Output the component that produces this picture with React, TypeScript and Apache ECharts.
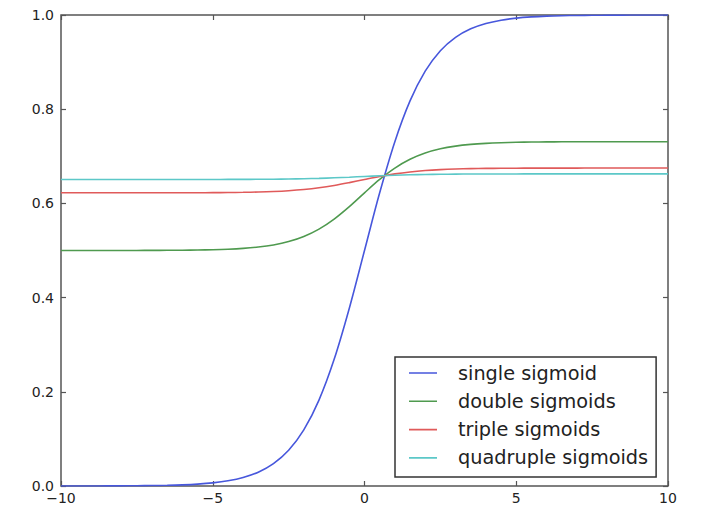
import React, { useEffect, useRef } from "react";
import * as echarts from "echarts";

const xs = [-10, -9.5, -9, -8.5, -8, -7.5, -7, -6.5, -6, -5.5, -5, -4.5, -4, -3.5, -3, -2.5, -2, -1.5, -1, -0.5, 0, 0.5, 1, 1.5, 2, 2.5, 3, 3.5, 4, 4.5, 5, 5.5, 6, 6.5, 7, 7.5, 8, 8.5, 9, 9.5, 10];

const singleSigmoid = [0.00005, 0.00007, 0.00012, 0.0002, 0.00034, 0.00055, 0.00091, 0.0015, 0.00247, 0.00407, 0.00669, 0.01099, 0.01799, 0.02931, 0.04743, 0.07586, 0.1192, 0.18243, 0.26894, 0.37754, 0.5, 0.62246, 0.73106, 0.81757, 0.8808, 0.92414, 0.95257, 0.97069, 0.98201, 0.98901, 0.99331, 0.99593, 0.99753, 0.9985, 0.99909, 0.99945, 0.99966, 0.9998, 0.99988, 0.99992, 0.99995];

const doubleSigmoids = [0.50001, 0.50002, 0.50003, 0.50005, 0.50008, 0.50014, 0.50023, 0.50038, 0.50062, 0.50102, 0.50167, 0.50275, 0.5045, 0.50733, 0.51185, 0.51896, 0.52977, 0.54548, 0.56683, 0.59328, 0.62246, 0.65078, 0.67504, 0.69372, 0.70699, 0.71589, 0.72163, 0.72526, 0.72751, 0.72889, 0.72974, 0.73026, 0.73057, 0.73076, 0.73088, 0.73095, 0.73099, 0.73102, 0.73104, 0.73104, 0.73105];

const tripleSigmoids = [0.62246, 0.62246, 0.62247, 0.62247, 0.62248, 0.62249, 0.62251, 0.62255, 0.6226, 0.6227, 0.62285, 0.62311, 0.62352, 0.62418, 0.62524, 0.6269, 0.62943, 0.63309, 0.63803, 0.64412, 0.65078, 0.65719, 0.66263, 0.66679, 0.66974, 0.6717, 0.67297, 0.67376, 0.67426, 0.67456, 0.67475, 0.67486, 0.67493, 0.67497, 0.675, 0.67501, 0.67502, 0.67503, 0.67503, 0.67503, 0.67504];

const quadrupleSigmoids = [0.65078, 0.65078, 0.65078, 0.65078, 0.65078, 0.65079, 0.65079, 0.6508, 0.65081, 0.65083, 0.65087, 0.65092, 0.65102, 0.65117, 0.65141, 0.65179, 0.65236, 0.65319, 0.65431, 0.65568, 0.65719, 0.65863, 0.65985, 0.66079, 0.66144, 0.66188, 0.66216, 0.66235, 0.66246, 0.66252, 0.66257, 0.66259, 0.66261, 0.66262, 0.66262, 0.66262, 0.66263, 0.66263, 0.66263, 0.66263, 0.66263];

const seriesNames = ["single sigmoid", "double sigmoids", "triple sigmoids", "quadruple sigmoids"];
const seriesColors = ["#4757dc", "#4f9a4f", "#e05a5a", "#5cc8c8"];
const seriesValues = [singleSigmoid, doubleSigmoids, tripleSigmoids, quadrupleSigmoids];

const FRAME = "#555555";
const TEXT = "#222222";
const FONT = "DejaVu Sans";

const legendIcon = "path://M0,0 L0.01,0 L0.01,0.01 Z M43.99,19.99 L44,19.99 L44,20 Z M0,9.2 L28,9.2 L28,10.8 L0,10.8 Z";

export default function App() {
  const ref = useRef<HTMLDivElement>(null);

  useEffect(() => {
    if (!ref.current) return;
    const chart = echarts.init(ref.current, null, { renderer: "svg" });

    const tickStyle = { show: true, inside: true, length: 5, lineStyle: { color: FRAME, width: 1.2 } };
    const noLine = { show: false, onZero: false };
    const minus = (v: number) => String(v).replace("-", "\u2212");

    chart.setOption({
      animation: false,
      backgroundColor: "#ffffff",
      grid: {
        left: 61,
        top: 15,
        right: 37,
        bottom: 20,
        show: true,
        borderColor: FRAME,
        borderWidth: 1.5,
        backgroundColor: "transparent",
      },
      xAxis: [
        {
          type: "value",
          min: -10,
          max: 10,
          interval: 5,
          position: "bottom",
          axisLine: noLine,
          axisTick: tickStyle,
          splitLine: { show: false },
          axisLabel: {
            color: TEXT,
            fontFamily: FONT,
            fontSize: 14,
            margin: 5,
            formatter: minus,
          },
        },
        {
          type: "value",
          min: -10,
          max: 10,
          interval: 5,
          position: "top",
          axisLine: noLine,
          axisTick: tickStyle,
          splitLine: { show: false },
          axisLabel: { show: false },
        },
      ],
      yAxis: [
        {
          type: "value",
          min: 0,
          max: 1,
          interval: 0.2,
          position: "left",
          axisLine: noLine,
          axisTick: tickStyle,
          splitLine: { show: false },
          axisLabel: {
            color: TEXT,
            fontFamily: FONT,
            fontSize: 14,
            margin: 7,
            formatter: (v: number) => v.toFixed(1),
          },
        },
        {
          type: "value",
          min: 0,
          max: 1,
          interval: 0.2,
          position: "right",
          axisLine: noLine,
          axisTick: tickStyle,
          splitLine: { show: false },
          axisLabel: { show: false },
        },
      ],
      legend: {
        orient: "vertical",
        left: 395,
        top: 357,
        padding: [6, 8, 9, 14],
        itemWidth: 44,
        itemHeight: 20,
        itemGap: 8.3,
        borderColor: "#333333",
        borderWidth: 1.5,
        backgroundColor: "#ffffff",
        textStyle: { color: TEXT, fontFamily: FONT, fontSize: 19.3, lineHeight: 20 },
        data: seriesNames.map((n) => ({ name: n, icon: legendIcon })),
      },
      series: seriesNames.map((name, i) => ({
        name,
        type: "line",
        xAxisIndex: 0,
        yAxisIndex: 0,
        symbol: "none",
        smooth: 0.35,
        color: seriesColors[i],
        lineStyle: { color: seriesColors[i], width: 1.6 },
        data: xs.map((x, j) => [x, seriesValues[i][j]]),
      })),
    });

    return () => chart.dispose();
  }, []);

  return <div ref={ref} style={{ position: "absolute", left: 0, top: 0, width: 705, height: 506 }} />;
}
